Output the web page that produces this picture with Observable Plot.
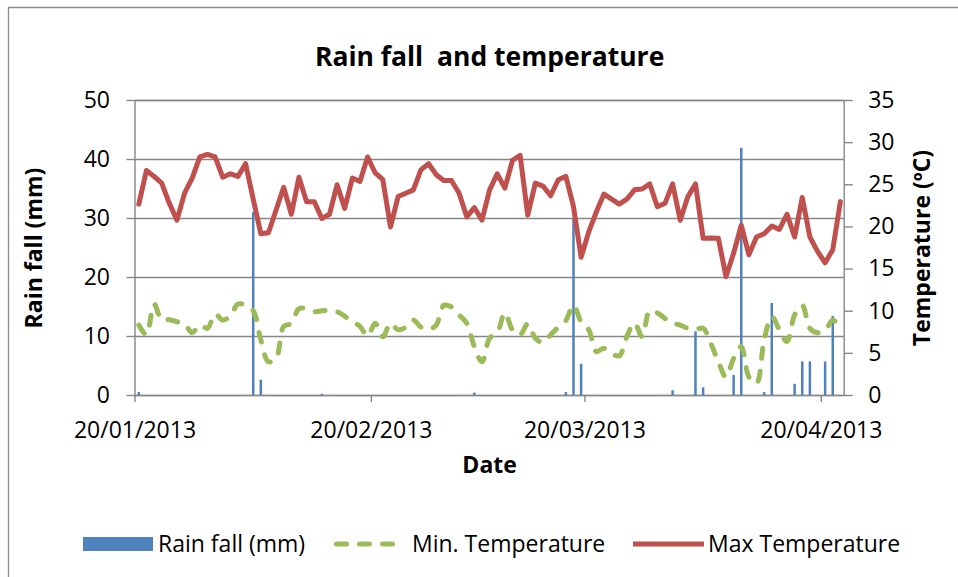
<!DOCTYPE html>
<html><head><meta charset="utf-8">
<script src="https://cdn.jsdelivr.net/npm/d3@7"></script>
<script src="https://cdn.jsdelivr.net/npm/@observablehq/plot@0.6"></script>
<style>
html,body{margin:0;padding:0;background:#fff;}
#chart{position:relative;width:958px;height:577px;overflow:hidden;}
svg text{white-space:pre;}
</style></head><body><div id="chart"></div>
<script>
// ---- data ----
const startDate = "2013-01-20";   // first daily observation
const endDate = "2013-04-23";     // axis end
const maxTemp = [22.7,26.7,26.0,25.2,22.8,20.8,24.0,25.8,28.3,28.6,
  28.3,25.9,26.3,26.0,27.5,23.3,19.2,19.3,22.0,24.7,
  21.5,25.9,23.0,23.0,21.0,21.5,25.0,22.2,25.8,25.4,
  28.3,26.4,25.6,20.0,23.6,24.0,24.4,26.8,27.5,26.2,
  25.5,25.5,24.0,21.2,22.3,20.8,24.4,26.3,24.6,27.9,
  28.5,21.4,25.2,24.85,23.7,25.6,26.0,22.4,16.4,19.4,
  21.8,23.9,23.3,22.7,23.3,24.4,24.5,25.1,22.4,22.8,
  25.1,20.8,23.6,25.1,18.65,18.7,18.65,14.1,16.9,20.2,
  16.7,18.8,19.2,20.1,19.7,21.5,18.8,23.5,18.8,17.1,
  15.75,17.3,23.0];
const minTemp = [8.36,7.2,10.85,8.96,9.0,8.75,8.5,7.45,8.36,7.97,
  9.67,8.96,9.43,10.85,10.7,10.06,6.6,4.0,4.4,8.2,
  8.56,10.3,10.3,9.95,10.06,10.1,9.95,9.4,8.75,8.2,
  7.06,8.56,6.97,8.56,7.8,8.1,8.96,8.1,7.85,8.36,
  10.7,10.5,9.55,8.56,5.8,4.0,6.8,7.45,9.8,7.8,
  7.2,8.5,6.8,6.3,7.2,8.1,8.9,10.7,8.75,7.8,
  5.2,5.6,5.0,4.7,7.0,8.6,7.0,10.06,9.8,9.15,
  8.56,8.36,7.97,7.85,7.97,6.2,4.0,2.2,4.4,5.8,
  2.2,1.45,6.6,9.35,7.8,6.4,9.55,10.7,7.97,7.45,
  7.7,8.96,7.97];
const rainFall = [0.5,0,0,0,0,0,0,0,0,0,
  0,0,0,0,0,31.0,2.6,0,0,0,
  0,0,0,0,0.2,0,0,0,0,0,
  0,0,0,0,0,0,0,0,0,0,
  0,0,0,0,0.4,0,0,0,0,0,
  0,0,0,0,0,0,0.5,30.0,5.3,0,
  0,0,0,0,0,0,0,0,0,0,
  0.8,0,0,10.8,1.3,0,0,0,3.4,41.9,
  0,0,0.5,15.6,0,0,1.9,5.7,5.7,0,
  5.7,13.4,0];
const xTickLabels = ["20/01/2013","20/02/2013","20/03/2013","20/04/2013"];
const rainTicks = [0,10,20,30,40,50];
const tempTicks = [0,5,10,15,20,25,30,35];
const seriesNames = ["Rain fall (mm)","Min. Temperature","Max Temperature"];
const colors = {rain:"#4F81BD", tmin:"#9BBB59", tmax:"#C0504D"};

// ---- build table ----
const parseISO = d3.utcParse("%Y-%m-%d");
const parseTick = d3.utcParse("%d/%m/%Y");
const t0 = parseISO(startDate);
const data = maxTemp.map((v, i) => ({
  date: d3.utcHour.offset(d3.utcDay.offset(t0, i), 12),
  tmax: v, tmin: minTemp[i], rain: rainFall[i]
}));
const tickDates = xTickLabels.map(parseTick);
const k = 50 / 35; // temperature -> rain-axis units
const gray = "#868686";
const font = "'Open Sans', sans-serif";

const plot = Plot.plot({
  width: 958, height: 577,
  marginLeft: 134.5, marginRight: 114.3, marginTop: 100, marginBottom: 182,
  style: {fontFamily: font, fontSize: "23px", color: "#000", background: "white", overflow: "visible"},
  x: {type: "utc", domain: [t0, parseISO(endDate)]},
  y: {domain: [0, 50]},
  marks: [
    Plot.gridY(rainTicks, {stroke: gray, strokeOpacity: 1, strokeWidth: 1.4}),
    Plot.frame({stroke: gray, strokeWidth: 1.4}),
    Plot.axisY(rainTicks, {anchor: "left", tickSize: 8, tickPadding: 17, stroke: gray, strokeWidth: 1.4, fill: "#000", label: null}),
    Plot.axisY(tempTicks, {anchor: "right", y: d => d * k, text: d => String(d), tickSize: 8, tickPadding: 16, stroke: gray, strokeWidth: 1.4, fill: "#000", label: null}),
    Plot.axisX(tickDates, {tickSize: 7, tickPadding: 19, tickFormat: d3.utcFormat("%d/%m/%Y"), stroke: gray, strokeWidth: 1.4, fill: "#000", label: null}),
    Plot.ruleX(data.filter(d => d.rain > 0), {x: "date", y1: 0, y2: "rain", stroke: colors.rain, strokeWidth: 2.5}),
    Plot.line(data, {x: "date", y: d => d.tmin * k, stroke: colors.tmin, strokeWidth: 5, strokeDasharray: "10,13", strokeLinecap: "round", strokeLinejoin: "round", curve: "catmull-rom"}),
    Plot.line(data, {x: "date", y: d => d.tmax * k, stroke: colors.tmax, strokeWidth: 5, strokeLinejoin: "round", strokeLinecap: "round"}),
    Plot.text(["Rain fall  and temperature"], {frameAnchor: "top", dy: -53, fontWeight: "bold", fontSize: 26.5}),
    Plot.text(["Rain fall (mm)"], {frameAnchor: "left", dx: -100, rotate: -90, textAnchor: "middle", fontWeight: "bold", fontSize: 23}),
    Plot.text(["Temperature (ºC)"], {frameAnchor: "right", dx: 78, rotate: -90, textAnchor: "middle", fontWeight: "bold", fontSize: 23}),
    Plot.text(["Date"], {frameAnchor: "bottom", dy: 77, fontWeight: "bold", fontSize: 23})
  ]
});

// ---- outer border (top & left visible) and legend ----
const svg = d3.select(plot);
svg.insert("path", ":first-child")
  .attr("d", "M8.5,577V7.5H958").attr("fill", "none").attr("stroke", "#8c8c8c").attr("stroke-width", 1.3);
const lg = svg.append("g").attr("font-family", font).attr("font-size", 23).attr("fill", "#000").attr("text-anchor", "start");
const ly = 544;
lg.append("rect").attr("x", 83).attr("y", ly - 7).attr("width", 70).attr("height", 14).attr("fill", colors.rain);
lg.append("text").attr("x", 158).attr("y", ly).attr("dy", "0.35em").text(seriesNames[0]);
lg.append("line").attr("x1", 336.5).attr("x2", 392.5).attr("y1", ly).attr("y2", ly)
  .attr("stroke", colors.tmin).attr("stroke-width", 5).attr("stroke-dasharray", "10,13").attr("stroke-linecap", "round");
lg.append("text").attr("x", 412).attr("y", ly).attr("dy", "0.35em").text(seriesNames[1]);
lg.append("line").attr("x1", 633).attr("x2", 704).attr("y1", ly).attr("y2", ly)
  .attr("stroke", colors.tmax).attr("stroke-width", 5);
lg.append("text").attr("x", 708).attr("y", ly).attr("dy", "0.35em").text(seriesNames[2]);

document.getElementById("chart").appendChild(plot);
</script></body></html>
